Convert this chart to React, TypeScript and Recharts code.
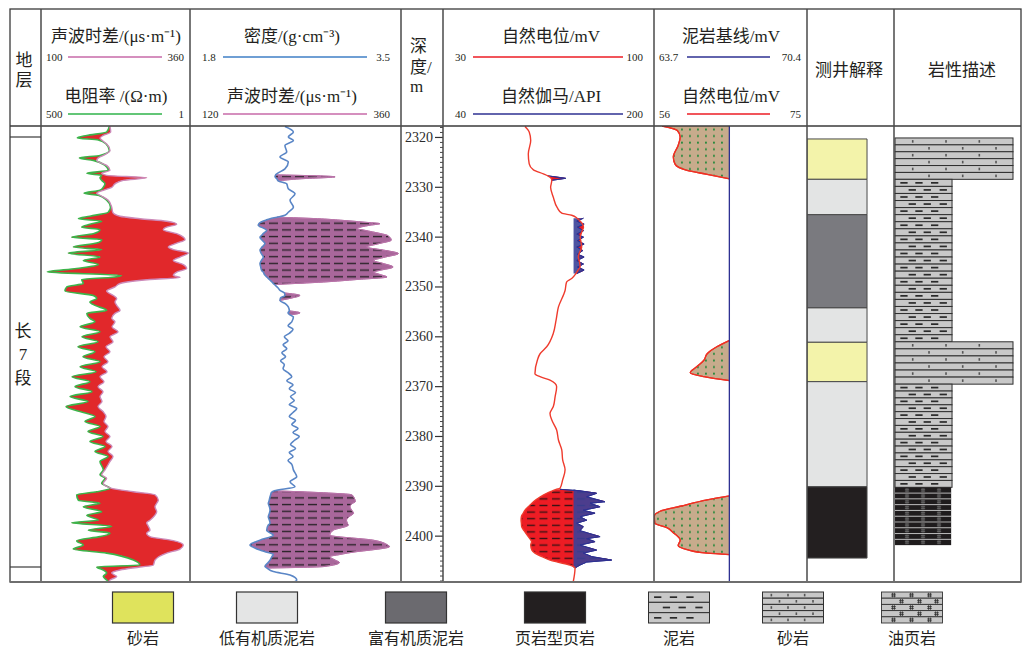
import React from 'react';
import {
  ComposedChart,
  Area,
  Line,
  XAxis,
  YAxis,
  ReferenceArea,
  ReferenceLine,
} from 'recharts';

/* ---------------- depth axis ---------------- */
const DEPTH_DOMAIN: [number, number] = [2317.7, 2409.2];
const DEPTH_LABELS = [2320, 2330, 2340, 2350, 2360, 2370, 2380, 2390, 2400];
const DEPTH_TICKS = Array.from({ length: 92 }, (_, i) => 2318 + i); // one tick per metre

/* ---------------- curve scales (left value, right value) ---------------- */
const AC1_RANGE: [number, number] = [100, 360];
const RT_RANGE: [number, number] = [500, 1];
const DEN_RANGE: [number, number] = [1.8, 3.5];
const AC2_RANGE: [number, number] = [120, 360];
const SP_RANGE: [number, number] = [30, 100];
const GR_RANGE: [number, number] = [40, 200];
const BASE_RANGE: [number, number] = [63.7, 70.4];
const SP2_RANGE: [number, number] = [56, 75];

const SHALE_BASELINE = 67.0; // mV
const GR_CUTOFF = 139; // API
const SHALE_DASH_TOP = 2390; // m

/* ---------------- track 1: 声波时差 / 电阻率 ---------------- */
const T1_DEPTH = [
  2317.8, 2318.9, 2319.6, 2320.1, 2320.5, 2321.3, 2322.6, 2323.6, 2324.1, 2324.6,
  2325.6, 2326.6, 2327.2, 2327.6, 2328.1, 2328.6, 2329.3, 2330.0, 2330.6, 2331.2,
  2331.6, 2332.6, 2334.0, 2335.0, 2335.8, 2336.3, 2336.8, 2337.4, 2338.0, 2338.5,
  2339.3, 2340.0, 2340.5, 2341.2, 2342.0, 2342.5, 2343.2, 2344.0, 2344.7, 2345.5,
  2346.3, 2347.0, 2347.7, 2348.1, 2348.5, 2349.3, 2350.0, 2350.8, 2351.7, 2352.3,
  2353.0, 2353.7, 2354.7, 2355.3, 2356.3, 2357.0, 2358.0, 2359.0, 2360.0, 2361.0,
  2362.0, 2363.0, 2364.0, 2365.0, 2366.0, 2367.0, 2368.0, 2369.0, 2370.0, 2371.0,
  2372.0, 2373.0, 2374.0, 2375.0, 2376.0, 2377.0, 2378.0, 2379.0, 2380.0, 2381.0,
  2382.0, 2383.0, 2384.0, 2385.0, 2386.7, 2387.7, 2388.4, 2389.4, 2390.4, 2391.1,
  2391.7, 2392.8, 2393.4, 2394.1, 2395.1, 2395.8, 2396.8, 2397.3, 2398.0, 2398.8,
  2399.4, 2400.1, 2400.9, 2401.8, 2402.6, 2403.4, 2404.8, 2405.8, 2406.2, 2406.8,
  2407.4, 2408.1, 2408.8, 2409.2,
];
const T1_AC = [
  220.4, 221.6, 208.7, 203.0, 205.9, 214.6, 220.4, 208.7, 200.0, 197.2,
  214.6, 220.4, 205.9, 214.6, 284.4, 243.6, 229.1, 223.4, 208.7, 197.2,
  203.0, 217.4, 223.4, 225.1, 237.9, 272.8, 319.3, 336.8, 319.3, 313.4,
  336.8, 348.3, 351.3, 336.8, 322.1, 330.9, 357.0, 342.6, 330.9, 348.3,
  354.2, 336.8, 330.9, 342.6, 290.2, 237.9, 229.1, 214.6, 226.2, 232.1,
  229.1, 232.1, 237.9, 229.1, 223.4, 229.1, 223.9, 234.4, 220.4, 225.6,
  213.4, 220.4, 209.9, 216.9, 206.4, 215.2, 203.0, 209.9, 199.5, 208.2,
  203.0, 206.4, 199.5, 208.2, 213.4, 209.9, 216.9, 211.7, 220.4, 213.4,
  223.9, 216.9, 225.6, 220.4, 211.7, 205.9, 214.6, 208.7, 223.4, 261.1,
  298.9, 304.7, 301.9, 298.9, 301.9, 298.9, 290.2, 284.4, 287.3, 290.2,
  284.4, 290.2, 330.9, 348.3, 342.6, 319.3, 298.9, 296.0, 272.8, 237.9,
  223.4, 232.1, 220.4, 218.0,
];
const T1_RT = [
  28.9, 32.3, 74, 110, 45.8, 33.2, 28.9, 42.7, 101, 56.5,
  34.7, 30.2, 74, 39.8, 42.7, 39.8, 34.7, 37.2, 42.7, 83,
  45.8, 32.3, 27.5, 30.2, 65, 105, 39.8, 65, 91.5, 42.7,
  56.5, 139, 39.8, 49, 130, 39.8, 160, 42.7, 85.7, 45.8,
  113, 384, 17.3, 28.1, 91.5, 85.7, 171, 184, 56.5, 49,
  65, 52.6, 32.3, 74, 65, 52.6, 98, 42.7, 90.5, 46.4,
  107, 52.6, 86.7, 42.7, 98, 50.4, 137, 65, 121, 59.6,
  149, 70.4, 176, 98, 52.6, 79.8, 42.7, 70.4, 37.7, 65,
  34.7, 52.6, 30.6, 42.7, 37.2, 42.7, 34.7, 39.8, 28.1, 49,
  113, 105, 42.7, 85.7, 39.8, 74, 45.8, 139, 26.2, 69.5,
  28.1, 42.7, 113, 85.7, 130, 32.3, 10.6, 8.1, 49, 37.2,
  32.3, 37.2, 32.3, 30,
];

/* ---------------- track 2: 密度 / 声波时差 ---------------- */
const T2_DEPTH = [
  2317.8, 2318.9, 2319.9, 2320.6, 2321.6, 2322.9, 2323.9, 2324.9, 2326.3, 2327.5,
  2327.9, 2328.3, 2328.7, 2329.3, 2330.3, 2331.3, 2332.6, 2334.0, 2335.0, 2335.6,
  2336.0, 2336.3, 2336.6, 2337.0, 2337.3, 2337.6, 2338.3, 2338.6, 2339.3, 2339.6,
  2340.0, 2340.6, 2341.3, 2342.0, 2342.6, 2343.3, 2344.0, 2344.7, 2345.3, 2346.0,
  2346.7, 2347.0, 2347.5, 2348.0, 2348.5, 2349.0, 2349.5, 2350.2, 2350.7, 2351.2,
  2351.7, 2352.2, 2352.7, 2353.4, 2354.0, 2354.8, 2355.2, 2355.6, 2356.0, 2357.0,
  2357.8, 2358.5, 2359.3, 2360.0, 2360.8, 2361.6, 2362.4, 2363.2, 2364.0, 2364.8,
  2365.6, 2366.4, 2367.2, 2368.0, 2368.8, 2369.6, 2370.4, 2371.2, 2372.0, 2372.8,
  2373.6, 2374.4, 2375.2, 2376.0, 2376.8, 2377.6, 2378.4, 2379.2, 2380.0, 2380.8,
  2381.6, 2382.4, 2383.2, 2384.0, 2384.8, 2385.6, 2386.7, 2388.1, 2389.1, 2390.1,
  2390.9, 2391.3, 2391.7, 2392.1, 2393.1, 2393.4, 2394.1, 2394.8, 2395.4, 2396.1,
  2396.8, 2397.4, 2397.8, 2398.8, 2399.8, 2400.8, 2401.8, 2402.1, 2402.8, 2403.1,
  2403.7, 2404.1, 2404.8, 2405.3, 2406.1, 2406.4, 2407.1, 2407.8, 2408.8, 2409.2,
];
const T2_DEN = [
  2.565, 2.633, 2.592, 2.633, 2.565, 2.579, 2.525, 2.592, 2.565, 2.49,
  2.485, 2.5, 2.511, 2.579, 2.592, 2.646, 2.606, 2.633, 2.592, 2.565,
  2.5, 2.445, 2.41, 2.37, 2.355, 2.35, 2.4, 2.418, 2.39, 2.38,
  2.364, 2.38, 2.404, 2.38, 2.364, 2.375, 2.391, 2.375, 2.364, 2.37,
  2.378, 2.39, 2.4, 2.418, 2.44, 2.46, 2.48, 2.51, 2.525, 2.56,
  2.565, 2.53, 2.525, 2.57, 2.592, 2.6, 2.59, 2.606, 2.633, 2.62,
  2.59, 2.63, 2.6, 2.56, 2.59, 2.55, 2.58, 2.54, 2.57, 2.53,
  2.56, 2.55, 2.59, 2.62, 2.58, 2.63, 2.6, 2.65, 2.61, 2.64,
  2.6, 2.66, 2.63, 2.6, 2.65, 2.62, 2.67, 2.63, 2.68, 2.64,
  2.61, 2.65, 2.6, 2.63, 2.59, 2.62, 2.633, 2.66, 2.606, 2.646,
  2.48, 2.455, 2.45, 2.445, 2.435, 2.431, 2.44, 2.445, 2.44, 2.431,
  2.44, 2.445, 2.43, 2.418, 2.471, 2.364, 2.283, 2.3, 2.364, 2.4,
  2.471, 2.46, 2.445, 2.43, 2.404, 2.42, 2.471, 2.606, 2.66, 2.64,
];
// sonic readings where the curve separates from density
const T2_AC_DEPTH = [
  2327.5, 2327.9, 2328.3, 2328.7,
  2336.0, 2336.3, 2336.6, 2337.0, 2337.3, 2337.6, 2338.3, 2338.6, 2339.3, 2339.6,
  2340.0, 2340.6, 2341.3, 2342.0, 2342.6, 2343.3, 2344.0, 2344.7, 2345.3, 2346.0,
  2346.7, 2347.0, 2347.5, 2348.0, 2348.5, 2349.0, 2349.5,
  2351.2, 2351.7, 2352.2, 2352.7,
  2354.8, 2355.2, 2355.6,
  2390.9, 2391.3, 2391.7, 2392.1, 2393.1, 2393.4, 2394.1, 2394.8, 2395.4, 2396.1,
  2396.8, 2397.4, 2397.8, 2398.8, 2399.8, 2400.8, 2401.8, 2402.1, 2402.8, 2403.1,
  2403.7, 2404.1, 2404.8, 2405.3, 2406.1, 2406.4,
];
const T2_AC = [
  217, 285, 245, 220,
  219, 265, 291, 318, 336, 325, 310, 318, 337, 344,
  347, 349, 335, 321, 340, 357, 342, 329, 340, 351,
  335, 329, 336, 344, 310, 272, 216,
  227, 245, 236, 222,
  233, 245, 234,
  216, 272, 304, 306, 308, 305, 302, 304, 306, 301,
  298, 299, 300, 283, 279, 328, 345, 347, 325, 310,
  290, 279, 285, 290, 272, 208,
];

/* ---------------- track 3: 自然电位 / 自然伽马 ---------------- */
const T3_DEPTH = [
  2317.8, 2318.9, 2320.6, 2323.3, 2325.3, 2326.5, 2327.3, 2327.7, 2328.2, 2328.6,
  2330.0, 2332.0, 2334.1, 2335.2, 2335.6, 2336.2, 2336.8, 2337.4, 2338.0, 2338.7,
  2339.4, 2340.0, 2340.7, 2341.4, 2342.0, 2342.7, 2343.4, 2344.0, 2344.7, 2345.4,
  2346.0, 2346.6, 2347.3, 2348.3, 2349.0, 2350.7, 2354.0, 2356.7, 2359.3, 2362.0,
  2363.4, 2364.7, 2367.4, 2368.0, 2368.7, 2370.0, 2372.0, 2374.0, 2375.4, 2376.7,
  2378.7, 2380.7, 2382.7, 2384.7, 2386.7, 2388.7, 2390.4, 2390.6, 2390.9, 2391.4,
  2392.1, 2393.1, 2393.4, 2394.1, 2394.8, 2395.4, 2396.1, 2396.8, 2397.4, 2398.1,
  2398.9, 2400.1, 2400.5, 2401.1, 2401.8, 2402.8, 2403.4, 2404.1, 2404.8, 2405.2,
  2405.8, 2406.4, 2409.2,
];
const T3_SP = [
  57.2, 58.6, 59.1, 58.3, 58.6, 60.0, 63.3, 64.8, 65.9, 66.1,
  65.7, 66.6, 67.9, 69.4, 72.7, 74.5, 75.5, 76.3, 76.6, 76.2,
  75.8, 75.5, 75.7, 75.9, 76.0, 75.6, 75.1, 74.9, 75.2, 75.4,
  75.5, 74.8, 74.1, 72.7, 71.0, 70.5, 68.3, 67.5, 66.6, 64.4,
  62.2, 61.3, 60.5, 62.2, 65.5, 67.7, 67.2, 66.6, 65.5, 66.1,
  67.7, 68.3, 69.4, 69.7, 70.5, 69.7, 68.8, 67.5, 66.3, 64.4,
  62.3, 60.0, 59.5, 58.3, 57.2, 56.6, 56.0, 55.9, 56.0, 56.1,
  56.9, 58.3, 58.8, 59.4, 59.1, 59.5, 60.5, 62.8, 65.5, 68.0,
  72.1, 73.8, 73.2,
];
// gamma ray readings where it departs from the SP trace
const T3_GR_DEPTH = [
  2327.7, 2328.2, 2328.6,
  2336.2, 2336.8, 2337.4, 2338.0, 2338.7, 2339.4, 2340.0, 2340.7, 2341.4, 2342.0,
  2342.7, 2343.4, 2344.0, 2344.7, 2345.4, 2346.0, 2346.6, 2347.3,
  2390.6, 2390.9, 2391.4, 2392.1, 2393.1, 2393.4, 2394.1, 2394.8, 2395.4, 2396.1,
  2396.8, 2397.4, 2398.1, 2398.9, 2400.1, 2400.5, 2401.1, 2401.8, 2402.8, 2403.4,
  2404.1, 2404.8, 2405.2, 2405.8, 2406.4,
];
const T3_GR = [
  119.5, 133, 122.5,
  146.5, 141.5, 147, 142, 146.5, 141.5, 146.5, 142, 147, 141.5,
  146, 142, 147, 141.5, 146.5, 142, 147, 141.5,
  128.7, 143.9, 156.5, 149.0, 162.8, 151.5, 159.1, 146.4, 155.3, 143.9,
  149.0, 141.4, 146.4, 143.9, 159.1, 149.0, 155.3, 143.9, 156.5, 146.4,
  152.8, 167.9, 149.0, 143.9, 140.1,
];

/* ---------------- track 4: 泥岩基线 / 自然电位 ---------------- */
const T4_DEPTH = [
  2317.7, 2318.6, 2319.9, 2321.6, 2323.9, 2325.3, 2326.6, 2327.4, 2328.3,
  2344.0,
  2360.7, 2362.0, 2363.4, 2364.7, 2366.0, 2367.2, 2368.0, 2368.8,
  2380.0,
  2391.9, 2392.7, 2394.0, 2395.0, 2396.0, 2397.4, 2398.3, 2399.3, 2400.8, 2401.9,
  2402.7, 2403.4, 2403.7,
];
const T4_SP = [
  57.0, 58.9, 59.25, 59.0, 58.4, 58.6, 60.1, 62.6, 65.4,
  null,
  65.4, 63.8, 62.6, 62.2, 61.3, 60.5, 62.2, 65.4,
  null,
  65.4, 62.6, 59.25, 56.75, 56.04, 56.1, 57.6, 58.4, 59.25, 59.0,
  60.1, 62.6, 65.4,
];

/* ---------------- 测井解释 ---------------- */
const INTERP_TOP = [2320.3, 2328.4, 2335.5, 2354.2, 2361.1, 2369.0, 2390.1];
const INTERP_BOTTOM = [2328.4, 2335.5, 2354.2, 2361.1, 2369.0, 2390.1, 2404.4];
const INTERP_CLASS = ['砂岩', '低有机质泥岩', '富有机质泥岩', '低有机质泥岩', '砂岩', '低有机质泥岩', '页岩型页岩'];

/* ---------------- 岩性描述 ---------------- */
const LITHO_TOP = [2320.1, 2328.4, 2361.0, 2369.5, 2390.2];
const LITHO_BOTTOM = [2328.4, 2361.0, 2369.5, 2390.2, 2401.8];
const LITHO_CLASS = ['砂岩', '泥岩', '砂岩', '泥岩', '油页岩'];

/* ---------------- legend ---------------- */
const LEGEND_LABELS = ['砂岩', '低有机质泥岩', '富有机质泥岩', '页岩型页岩', '泥岩', '砂岩', '油页岩'];
const LEGEND_KIND = ['fill', 'fill', 'fill', 'fill', 'mud', 'sand', 'oilLegend'];

/* ================= styling & layout ================= */
const SERIF = "'Liberation Serif', 'Noto Sans CJK SC', serif";
const INK = '#231f20';
const PLOT_TOP = 126;
const PLOT_H = 456;
const NOMARGIN = { top: 0, right: 0, bottom: 0, left: 0 };

const INTERP_FILL: Record<string, string> = {
  砂岩: '#f3f3aa',
  低有机质泥岩: '#e3e4e4',
  富有机质泥岩: '#7a7a7f',
  页岩型页岩: '#231f20',
};
const LEGEND_FILL: Record<string, string> = {
  砂岩: '#dfe35c',
  低有机质泥岩: '#e4e5e5',
  富有机质泥岩: '#6b6a6f',
  页岩型页岩: '#231f20',
};
const LITHO_STYLE: Record<string, { kind: BedKind; x1: number; x2: number }> = {
  砂岩: { kind: 'sand', x1: 0.008, x2: 0.937 },
  泥岩: { kind: 'mud', x1: 0.008, x2: 0.457 },
  油页岩: { kind: 'oil', x1: 0.008, x2: 0.45 },
};

/* ---------------- unit conversions for shaded crossovers ---------------- */
const frac = (r: [number, number], v: number) => (v - r[0]) / (r[1] - r[0]);
const fromFrac = (r: [number, number], f: number) => r[0] + f * (r[1] - r[0]);
const rtFrac = (rt: number) => Math.log(RT_RANGE[0] / rt) / Math.log(RT_RANGE[0] / RT_RANGE[1]);
const rtAsAc = (rt: number) => fromFrac(AC1_RANGE, rtFrac(rt));
const denAsAc = (d: number) => fromFrac(AC2_RANGE, frac(DEN_RANGE, d));
const grAsSp = (g: number) => fromFrac(SP_RANGE, frac(GR_RANGE, g));
const baselineAsSp = fromFrac(SP2_RANGE, frac(BASE_RANGE, SHALE_BASELINE));

/* ---------------- chart rows ---------------- */
const t1Rows = T1_DEPTH.map((depth, i) => ({ depth, ac: T1_AC[i], rt: T1_RT[i] }));
const t2Rows = T2_DEPTH.map((depth, i) => {
  const j = T2_AC_DEPTH.indexOf(depth);
  return { depth, den: T2_DEN[i], ac: j >= 0 ? T2_AC[j] : null };
});
const t3Rows = T3_DEPTH.map((depth, i) => {
  const j = T3_GR_DEPTH.indexOf(depth);
  return { depth, sp: T3_SP[i], gr: j >= 0 ? T3_GR[j] : null };
});
const t4Rows = T4_DEPTH.map((depth, i) => ({ depth, sp: T4_SP[i] }));
const interpRows = INTERP_TOP.map((depth) => ({ depth }));
const lithoRows = LITHO_TOP.map((depth) => ({ depth }));

const GAP = [null, null];
// a curve drawn only where it has readings; gaps stay open on both edges
const trace = (key: string) => (r: any) => (r[key] != null ? [r[key], r[key]] : GAP);

/* ---------------- bedded lithology symbol ---------------- */
type BedKind = 'sand' | 'mud' | 'oil' | 'oilLegend';

function Hash({ x, y, s, stroke, sw }: { x: number; y: number; s: number; stroke: string; sw: number }) {
  // a small "#" mark centred on (x, y)
  const a = s / 2;
  const o = s / 5;
  return (
    <g stroke={stroke} strokeWidth={sw}>
      <line x1={x - o} x2={x - o} y1={y - a} y2={y + a} />
      <line x1={x + o} x2={x + o} y1={y - a} y2={y + a} />
      <line x1={x - a} x2={x + a} y1={y - o} y2={y - o} />
      <line x1={x - a} x2={x + a} y1={y + o} y2={y + o} />
    </g>
  );
}

function LithoBeds({
  kind, x, y, width, height, nominal, spread = 1,
}: { kind: BedKind; x: number; y: number; width: number; height: number; nominal?: number; spread?: number }) {
  const base = nominal ?? (kind === 'sand' ? 7.5 : kind === 'mud' ? 7 : 5.7);
  const n = Math.max(1, Math.round(height / base));
  const h = height / n;
  const items: React.ReactNode[] = [];
  for (let i = 0; i < n; i++) {
    const by = y + i * h;
    const cy = by + h / 2;
    if (kind === 'oil') {
      items.push(<rect key={`b${i}`} x={x} y={by} width={width} height={h} fill="#1f1c1d" />);
      if (i > 0) items.push(<line key={`s${i}`} x1={x} x2={x + width} y1={by} y2={by} stroke="#d4d4d4" strokeWidth={0.8} />);
      [12, 28, 44].forEach((o, k) => {
        if (o + 4 < width) {
          items.push(<Hash key={`m${i}-${k}`} x={x + o} y={cy} s={h - 1.5} stroke="#7a7a7a" sw={0.6} />);
        }
      });
    } else if (kind === 'oilLegend') {
      items.push(<rect key={`b${i}`} x={x} y={by} width={width} height={h} fill="#c6c6c6" stroke="#333" strokeWidth={0.9} />);
      const offs = i % 2 === 0 ? [12, 30, 48] : [20, 38, 55];
      offs.forEach((o, k) => {
        if (o + 3 < width) items.push(<Hash key={`m${i}-${k}`} x={x + o} y={cy} s={h - 1.6} stroke="#2a2a2a" sw={0.8} />);
      });
    } else {
      items.push(<rect key={`b${i}`} x={x} y={by} width={width} height={h} fill="#c8c8c8" stroke="#2f2f2f" strokeWidth={1} />);
      if (kind === 'mud') {
        const offs = i % 2 === 0 ? [5.3, 20.3, 36] : [13.6, 28.6, 44.6];
        offs.forEach((o, k) => {
          const ox = o * spread;
          if (ox + 7.3 < width - 1) {
            items.push(<line key={`d${i}-${k}`} x1={x + ox} x2={x + ox + 7.3} y1={cy} y2={cy} stroke="#2a2a2a" strokeWidth={1.7} />);
          }
        });
      } else {
        const offs = i % 2 === 0 ? [17.7, 51, 84.3] : [34, 67.7, 101];
        offs.forEach((o, k) => {
          const ox = o * spread;
          if (ox < width - 2) {
            items.push(<rect key={`p${i}-${k}`} x={x + ox - 0.8} y={cy - 1.3} width={1.6} height={2.6} fill="#555" />);
          }
        });
      }
    }
  }
  return <g>{items}</g>;
}

/* ---------------- depth tick ---------------- */
const renderDepthTick = (props: any) => {
  const { x, y, payload } = props;
  const v = payload.value as number;
  const major = DEPTH_LABELS.includes(v);
  return (
    <g>
      <line x1={x} x2={x - (major ? 8 : 3)} y1={y} y2={y} stroke="#333" strokeWidth={major ? 1.2 : 0.9} />
      {major && (
        <text x={x - 10} y={y} textAnchor="end" dominantBaseline="central" fontSize={14} fontFamily={SERIF} fill="#2b2b2b">
          {v}
        </text>
      )}
    </g>
  );
};

/* ---------------- header blocks ---------------- */
type HeaderCurve = { title: string; labels: [number, number]; color: string };
type HeaderBlock = { cx: number; x1: number; x2: number; lx: number; rx: number; curves: [HeaderCurve, HeaderCurve] };

const HEADERS: HeaderBlock[] = [
  {
    cx: 116, x1: 68, x2: 162, lx: 46, rx: 184,
    curves: [
      { title: '声波时差/(μs·m⁻¹)', labels: AC1_RANGE, color: '#c76aa8' },
      { title: '电阻率 /(Ω·m)', labels: RT_RANGE, color: '#2fb34a' },
    ],
  },
  {
    cx: 292, x1: 223, x2: 367, lx: 202, rx: 390,
    curves: [
      { title: '密度/(g·cm⁻³)', labels: DEN_RANGE, color: '#3f7fc6' },
      { title: '声波时差/(μs·m⁻¹)', labels: AC2_RANGE, color: '#c76aa8' },
    ],
  },
  {
    cx: 551, x1: 473, x2: 623, lx: 455, rx: 643,
    curves: [
      { title: '自然电位/mV', labels: SP_RANGE, color: '#ed1c24' },
      { title: '自然伽马/API', labels: GR_RANGE, color: '#2e3192' },
    ],
  },
  {
    cx: 731, x1: 687, x2: 770, lx: 659, rx: 801,
    curves: [
      { title: '泥岩基线/mV', labels: BASE_RANGE, color: '#2e3192' },
      { title: '自然电位/mV', labels: SP2_RANGE, color: '#ed1c24' },
    ],
  },
];

const LEGEND_CX = [143, 267, 416, 555, 679, 793, 912];

function Header() {
  const rows = [
    { ty: 36, ly: 57 },
    { ty: 96, ly: 114 },
  ];
  return (
    <g fontFamily={SERIF} fill={INK}>
      {HEADERS.map((h, hi) =>
        h.curves.map((c, ci) => (
          <g key={`${hi}-${ci}`}>
            <text x={h.cx} y={rows[ci].ty} fontSize={17} textAnchor="middle" dominantBaseline="central">
              {c.title}
            </text>
            <line x1={h.x1} x2={h.x2} y1={rows[ci].ly} y2={rows[ci].ly} stroke={c.color} strokeWidth={1.3} />
            <text x={h.lx} y={rows[ci].ly} fontSize={11} dominantBaseline="central">
              {c.labels[0]}
            </text>
            <text x={h.rx} y={rows[ci].ly} fontSize={11} textAnchor="end" dominantBaseline="central">
              {c.labels[1]}
            </text>
          </g>
        )),
      )}
      <text x={24} y={60} fontSize={17} textAnchor="middle" dominantBaseline="central">地</text>
      <text x={24} y={80} fontSize={17} textAnchor="middle" dominantBaseline="central">层</text>
      <text x={410} y={46} fontSize={17} dominantBaseline="central">深</text>
      <text x={410} y={67} fontSize={17} dominantBaseline="central">度/</text>
      <text x={410} y={92} fontSize={17}>m</text>
      <text x={849} y={70} fontSize={17} textAnchor="middle" dominantBaseline="central">测井解释</text>
      <text x={962} y={70} fontSize={17} textAnchor="middle" dominantBaseline="central">岩性描述</text>
      <text x={23} y={331} fontSize={17} textAnchor="middle" dominantBaseline="central">长</text>
      <text x={23} y={354} fontSize={17} textAnchor="middle" dominantBaseline="central">7</text>
      <text x={23} y={378} fontSize={17} textAnchor="middle" dominantBaseline="central">段</text>
    </g>
  );
}

function Legend() {
  return (
    <g fontFamily={SERIF} fill={INK}>
      {LEGEND_LABELS.map((label, i) => {
        const x = LEGEND_CX[i] - 30.5;
        const kind = LEGEND_KIND[i];
        return (
          <g key={i}>
            {kind === 'fill' ? (
              <rect x={x} y={592} width={61} height={31} fill={LEGEND_FILL[label]} stroke="#333" strokeWidth={1.2} />
            ) : kind === 'mud' ? (
              <LithoBeds kind="mud" x={x} y={592} width={61} height={31} nominal={10} spread={1.05} />
            ) : kind === 'sand' ? (
              <LithoBeds kind="sand" x={x} y={592} width={61} height={31} nominal={6.2} spread={0.5} />
            ) : (
              <LithoBeds kind="oilLegend" x={x} y={592} width={61} height={31} nominal={6.2} />
            )}
            <text x={LEGEND_CX[i]} y={638} fontSize={16} textAnchor="middle" dominantBaseline="central">
              {label}
            </text>
          </g>
        );
      })}
    </g>
  );
}

function Frame() {
  const verticals = [41, 190, 401, 443, 654, 807, 894];
  return (
    <g>
      <rect x={10} y={9} width={1011} height={573} fill="none" stroke="#3a3a3a" strokeWidth={1.3} />
      <line x1={10} x2={1021} y1={126} y2={126} stroke="#3a3a3a" strokeWidth={1.3} />
      {verticals.map((x) => (
        <line key={x} x1={x} x2={x} y1={9} y2={582} stroke="#4a4a4a" strokeWidth={1.5} />
      ))}
      <line x1={10} x2={41} y1={137} y2={137} stroke="#3a3a3a" strokeWidth={1.2} />
      <line x1={10} x2={41} y1={567} y2={567} stroke="#3a3a3a" strokeWidth={1.2} />
      <line x1={10} x2={1021} y1={582} y2={582} stroke="#6e6e6e" strokeWidth={2} />
    </g>
  );
}

// depth runs downwards along the category (y) axis of the vertical layout
const depthAxisHidden = <YAxis type="number" dataKey="depth" domain={DEPTH_DOMAIN} hide allowDataOverflow />;

export default function App() {
  return (
    <div style={{ position: 'absolute', left: 0, top: 0, width: 1025, height: 649, background: '#fff', overflow: 'hidden' }}>
      {/* track 1 */}
      <div style={{ position: 'absolute', left: 41, top: PLOT_TOP }}>
        <ComposedChart layout="vertical" width={149} height={PLOT_H} data={t1Rows} margin={NOMARGIN}>
          {depthAxisHidden}
          <XAxis xAxisId="ac" type="number" domain={AC1_RANGE} hide allowDataOverflow />
          <XAxis xAxisId="rt" type="number" scale="log" domain={[RT_RANGE[1], RT_RANGE[0]]} reversed hide allowDataOverflow />
          <Area
            xAxisId="ac"
            type="monotone"
            dataKey={(r: any) => [rtAsAc(r.rt), r.ac]}
            fill="#e1282b"
            fillOpacity={1}
            stroke="none"
            isAnimationActive={false}
          />
          <Line xAxisId="rt" type="monotone" dataKey="rt" stroke="#3cb44a" strokeWidth={1.6} dot={false} activeDot={false} isAnimationActive={false} />
          <Line xAxisId="ac" type="monotone" dataKey="ac" stroke="#cc8ab9" strokeWidth={1.4} dot={false} activeDot={false} isAnimationActive={false} />
        </ComposedChart>
      </div>

      {/* track 2 */}
      <div style={{ position: 'absolute', left: 190, top: PLOT_TOP }}>
        <ComposedChart layout="vertical" width={211} height={PLOT_H} data={t2Rows} margin={NOMARGIN}>
          {depthAxisHidden}
          <XAxis xAxisId="den" type="number" domain={DEN_RANGE} hide allowDataOverflow />
          <XAxis xAxisId="ac" type="number" domain={AC2_RANGE} hide allowDataOverflow />
          <Area
            xAxisId="ac"
            type="monotone"
            dataKey={(r: any) => (r.ac != null ? [denAsAc(r.den), r.ac] : GAP)}
            fill="#a9679b"
            fillOpacity={1}
            stroke="none"
            isAnimationActive={false}
          />
          <Area
            xAxisId="ac"
            type="monotone"
            dataKey={(r: any) => (r.ac != null ? [denAsAc(r.den), r.ac] : GAP)}
            fill="url(#dash-t2)"
            fillOpacity={1}
            stroke="none"
            isAnimationActive={false}
          />
          <Area xAxisId="ac" type="monotone" dataKey={trace('ac')} fill="none" stroke="#b873a8" strokeWidth={1} isAnimationActive={false} />
          <Line xAxisId="den" type="monotone" dataKey="den" stroke="#5a86c6" strokeWidth={1.6} dot={false} activeDot={false} isAnimationActive={false} />
        </ComposedChart>
      </div>

      {/* depth scale + track 3 */}
      <div style={{ position: 'absolute', left: 401, top: PLOT_TOP }}>
        <ComposedChart layout="vertical" width={253} height={PLOT_H} data={t3Rows} margin={NOMARGIN}>
          <YAxis
            type="number"
            dataKey="depth"
            domain={DEPTH_DOMAIN}
            allowDataOverflow
            width={42}
            ticks={DEPTH_TICKS}
            interval={0}
            axisLine={false}
            tickLine={false}
            tickSize={0}
            tickMargin={0}
            tick={renderDepthTick}
          />
          <XAxis xAxisId="sp" type="number" domain={SP_RANGE} hide allowDataOverflow />
          <XAxis xAxisId="gr" type="number" domain={GR_RANGE} hide allowDataOverflow />
          <Area
            xAxisId="sp"
            type="monotone"
            dataKey={(r: any) => (r.gr != null ? [r.sp, grAsSp(r.gr)] : GAP)}
            fill="#ed1c24"
            fillOpacity={1}
            stroke="none"
            isAnimationActive={false}
          />
          <Area
            xAxisId="sp"
            type="monotone"
            dataKey={(r: any) => (r.gr != null && r.depth >= SHALE_DASH_TOP ? [r.sp, grAsSp(r.gr)] : GAP)}
            fill="url(#dash-t3)"
            fillOpacity={1}
            stroke="none"
            isAnimationActive={false}
          />
          <Area
            xAxisId="gr"
            type="linear"
            dataKey={(r: any) => (r.gr != null ? [GR_CUTOFF, Math.max(GR_CUTOFF, r.gr)] : GAP)}
            fill="#3a4199"
            fillOpacity={0.9}
            stroke="none"
            isAnimationActive={false}
          />
          <Area xAxisId="gr" type="linear" dataKey={trace('gr')} fill="none" stroke="#2e3192" strokeWidth={1} isAnimationActive={false} />
          <Line xAxisId="sp" type="monotone" dataKey="sp" stroke="#ef3b2d" strokeWidth={1.4} dot={false} activeDot={false} isAnimationActive={false} />
        </ComposedChart>
      </div>

      {/* track 4 */}
      <div style={{ position: 'absolute', left: 654, top: PLOT_TOP }}>
        <ComposedChart layout="vertical" width={153} height={PLOT_H} data={t4Rows} margin={NOMARGIN}>
          {depthAxisHidden}
          <XAxis xAxisId="sp" type="number" domain={SP2_RANGE} hide allowDataOverflow />
          <XAxis xAxisId="base" type="number" domain={BASE_RANGE} hide allowDataOverflow />
          <Area
            xAxisId="sp"
            type="monotone"
            dataKey={(r: any) => (r.sp != null ? [r.sp, baselineAsSp] : GAP)}
            fill="#c7ab8c"
            fillOpacity={1}
            stroke="none"
            isAnimationActive={false}
          />
          <Area
            xAxisId="sp"
            type="monotone"
            dataKey={(r: any) => (r.sp != null ? [r.sp, baselineAsSp] : GAP)}
            fill="url(#dots-t4)"
            fillOpacity={1}
            stroke="none"
            isAnimationActive={false}
          />
          <Area xAxisId="sp" type="monotone" dataKey={trace('sp')} fill="none" stroke="#ee3124" strokeWidth={1.3} isAnimationActive={false} />
          <ReferenceLine xAxisId="base" x={SHALE_BASELINE} stroke="#2e3192" strokeWidth={1.3} />
        </ComposedChart>
      </div>

      {/* 测井解释 */}
      <div style={{ position: 'absolute', left: 807, top: PLOT_TOP }}>
        <ComposedChart layout="vertical" width={87} height={PLOT_H} data={interpRows} margin={NOMARGIN}>
          {depthAxisHidden}
          <XAxis type="number" domain={[0, 1]} hide allowDataOverflow />
          {INTERP_CLASS.map((c, i) => (
            <ReferenceArea
              key={i}
              x1={0}
              x2={0.69}
              y1={INTERP_TOP[i]}
              y2={INTERP_BOTTOM[i]}
              fill={INTERP_FILL[c]}
              fillOpacity={1}
              stroke="#4a4a4a"
              strokeWidth={1}
              ifOverflow="visible"
            />
          ))}
        </ComposedChart>
      </div>

      {/* 岩性描述 */}
      <div style={{ position: 'absolute', left: 894, top: PLOT_TOP }}>
        <ComposedChart layout="vertical" width={127} height={PLOT_H} data={lithoRows} margin={NOMARGIN}>
          {depthAxisHidden}
          <XAxis type="number" domain={[0, 1]} hide allowDataOverflow />
          {LITHO_CLASS.map((c, i) => {
            const st = LITHO_STYLE[c];
            return (
              <ReferenceArea
                key={i}
                x1={st.x1}
                x2={st.x2}
                y1={LITHO_TOP[i]}
                y2={LITHO_BOTTOM[i]}
                ifOverflow="visible"
                shape={(p: any) => <LithoBeds kind={st.kind} x={p.x} y={p.y} width={p.width} height={p.height} />}
              />
            );
          })}
        </ComposedChart>
      </div>

      {/* frame, headers and legend */}
      <svg width={1025} height={649} style={{ position: 'absolute', left: 0, top: 0, pointerEvents: 'none' }}>
        <defs>
          <pattern id="dash-t2" patternUnits="userSpaceOnUse" width={13} height={6.7}>
            <line x1={1} y1={3.4} x2={10} y2={3.4} stroke="#2a2328" strokeWidth={1.4} />
          </pattern>
          <pattern id="dash-t3" patternUnits="userSpaceOnUse" width={12.5} height={6.6}>
            <line x1={1} y1={3.3} x2={9} y2={3.3} stroke="#3b1214" strokeWidth={1.4} />
          </pattern>
          <pattern id="dots-t4" patternUnits="userSpaceOnUse" width={8} height={6.6}>
            <rect x={3} y={2.5} width={1.9} height={1.9} fill="#2b8a3e" />
          </pattern>
        </defs>
        <Frame />
        <Header />
        <Legend />
      </svg>
    </div>
  );
}
